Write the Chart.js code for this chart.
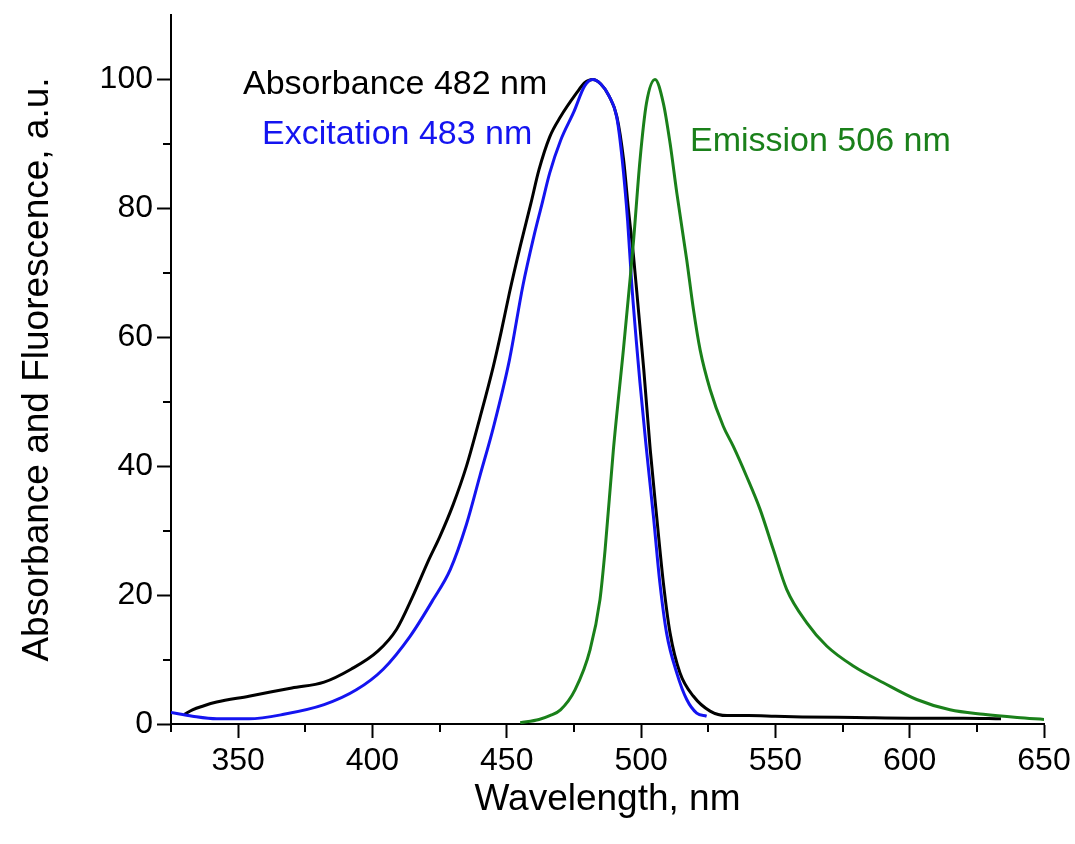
<!DOCTYPE html>
<html>
<head>
<meta charset="utf-8">
<script src="https://cdn.jsdelivr.net/npm/chart.js@4/dist/chart.umd.min.js"></script>
<style>
  html, body { margin: 0; padding: 0; background: #fff; }
  #wrap { width: 1075px; height: 844px; }
</style>
</head>
<body>
<div id="wrap"><canvas id="chart"></canvas></div>
<script>
// absorbance (black)
var abs_wl  = [330, 333, 337, 342, 354, 370, 382, 392, 402, 409, 415, 421, 425, 430, 435, 440, 445, 448, 451, 455, 459, 462, 466, 470, 476, 479, 482, 485, 488, 491, 493.5, 495.3, 497.2, 499, 501, 503.4, 505.8, 508.3, 510.8, 514.5, 519.5, 525.7, 532, 540, 550, 560, 580, 600, 620, 634];
var abs_val = [1.5, 2.2, 2.8, 3.4, 4.3, 5.6, 6.5, 8.5, 11.3, 14.7, 19.8, 25.5, 29, 34, 40, 47.5, 55.5, 61, 66.9, 74.1, 80.8, 86, 91.1, 94.2, 97.9, 99.5, 100, 99.3, 97.5, 94.2, 87.5, 79.8, 72.5, 64.3, 55, 42.6, 32.2, 21.9, 14.1, 7.9, 4.3, 2.0, 1.3, 1.3, 1.2, 1.1, 1.0, 0.9, 0.9, 0.8];

// excitation (blue)
var exc_wl  = [325, 333, 342, 354, 367, 382, 394, 404, 414, 422.6, 429, 435, 440, 445, 451, 456, 460, 463, 466, 470, 475, 479, 482, 485, 488, 491, 493, 495, 496.5, 499.6, 502, 504.6, 507, 509.5, 513.3, 517, 520.7, 524.4];
var exc_val = [1.8, 1.2, 0.8, 0.8, 1.5, 3.0, 5.3, 8.5, 13.6, 19.3, 24, 31, 38.5, 46, 56.5, 68, 75.5, 80.5, 85.5, 90.5, 95, 99, 100, 99.3, 97.5, 94, 87.5, 78, 68.4, 52.9, 42.6, 32.2, 21.9, 14.1, 7.9, 3.8, 1.7, 1.2];

// emission (green)
var emi_wl  = [455, 462, 466, 470, 475.4, 481, 484.7, 486.6, 489.7, 493.4, 496, 497.2, 499.6, 502, 505.2, 508.3, 510.8, 513.3, 517, 519.5, 522, 525.7, 530.6, 534.3, 539.3, 544.3, 549.2, 554.2, 561.7, 569.1, 579, 590.2, 602.6, 615, 627.4, 640, 650];
var emi_val = [0.2, 0.7, 1.3, 2.2, 5.3, 11.5, 19.3, 27, 42.6, 58, 69.4, 75, 87.5, 96.3, 100, 96.3, 90.1, 82.4, 72, 64.3, 58, 51.9, 46.2, 43.1, 38.4, 33.3, 27.1, 20.9, 15.7, 12.1, 9.0, 6.4, 3.8, 2.2, 1.5, 1.0, 0.7];

var x_minor = [325, 375, 425, 475, 525, 575, 625];
var y_minor = [10, 30, 50, 70, 90];

var labels = [
	{ text: 'Absorbance 482 nm', x: 351.8, y: 99.2, color: '#000000' },
	{ text: 'Excitation 483 nm', x: 358.9, y: 91.4, color: '#1414f0' },
	{ text: 'Emission 506 nm',   x: 518.2, y: 90.3, color: '#1a801a' }
];

var FONT = '"Liberation Sans", Arial, sans-serif';

function to_points(xs, ys) {
	var pts = [];
	for (var i = 0; i < xs.length; i++) {
		pts.push({ x: xs[i], y: ys[i] });
	}
	return pts;
}

function make_set(label, xs, ys, color) {
	return {
		label: label,
		data: to_points(xs, ys),
		borderColor: color,
		backgroundColor: color,
		borderWidth: 3,
		pointRadius: 0,
		showLine: true,
		fill: false,
		cubicInterpolationMode: 'monotone'
	};
}

// minor ticks + curve labels
var extras = {
	id: 'extras',
	afterDraw: function(chart) {
		var ctx = chart.ctx;
		var xs = chart.scales.x, ys = chart.scales.y;
		var area = chart.chartArea;
		ctx.save();
		ctx.strokeStyle = '#000';
		ctx.lineWidth = 2;
		ctx.beginPath();
		for (var i in x_minor) {
			var px = Math.round(xs.getPixelForValue(x_minor[i]));
			ctx.moveTo(px, area.bottom);
			ctx.lineTo(px, area.bottom + 8);
		}
		for (var j in y_minor) {
			var py = Math.round(ys.getPixelForValue(y_minor[j]));
			ctx.moveTo(area.left, py);
			ctx.lineTo(area.left - 8, py);
		}
		ctx.stroke();

		ctx.font = '34px ' + FONT;
		ctx.textAlign = 'left';
		ctx.textBaseline = 'middle';
		for (var k in labels) {
			ctx.fillStyle = labels[k].color;
			ctx.fillText(labels[k].text, xs.getPixelForValue(labels[k].x), ys.getPixelForValue(labels[k].y));
		}
		ctx.restore();
	}
};

var ctx = document.getElementById('chart');

var myChart = new Chart(ctx, {
	type: 'scatter',
	data: {
		datasets: [
			make_set('Emission 506 nm', emi_wl, emi_val, '#1a801a'),
			make_set('Excitation 483 nm', exc_wl, exc_val, '#1414f0'),
			make_set('Absorbance 482 nm', abs_wl, abs_val, '#000000')
		]
	},
	options: {
		responsive: true,
		maintainAspectRatio: false,
		animation: false,
		layout: { padding: { left: 0, right: 31, top: 15, bottom: 0 } },
		plugins: {
			legend: { display: false },
			tooltip: { enabled: false }
		},
		scales: {
			x: {
				type: 'linear',
				min: 325,
				max: 650,
				afterFit: function(scale) {
					scale.height = 120;
					scale.paddingLeft = 0;
					scale.paddingRight = 0;
				},
				border: { color: '#000', width: 2 },
				grid: { drawOnChartArea: false, color: '#000', tickLength: 14, tickWidth: 2 },
				ticks: {
					stepSize: 50,
					includeBounds: false,
					autoSkip: false,
					maxRotation: 0,
					color: '#000',
					padding: 4,
					font: { family: FONT, size: 32 }
				},
				title: {
					display: true,
					text: 'Wavelength, nm',
					color: '#000',
					padding: { top: 0, bottom: 22 },
					font: { family: FONT, size: 37, lineHeight: 1.2 }
				}
			},
			y: {
				type: 'linear',
				min: 0,
				max: 110,
				afterFit: function(scale) {
					scale.width = 171;
					scale.paddingTop = 0;
					scale.paddingBottom = 0;
				},
				border: { color: '#000', width: 2 },
				grid: { drawOnChartArea: false, color: '#000', tickLength: 14, tickWidth: 2 },
				ticks: {
					stepSize: 20,
					includeBounds: false,
					autoSkip: false,
					color: '#000',
					padding: 4,
					font: { family: FONT, size: 32 }
				},
				title: {
					display: true,
					text: 'Absorbance and Fluorescence, a.u.',
					color: '#000',
					padding: { top: 16, bottom: 0 },
					font: { family: FONT, size: 37, lineHeight: 1.2 }
				}
			}
		}
	},
	plugins: [extras]
});
</script>
</body>
</html>
